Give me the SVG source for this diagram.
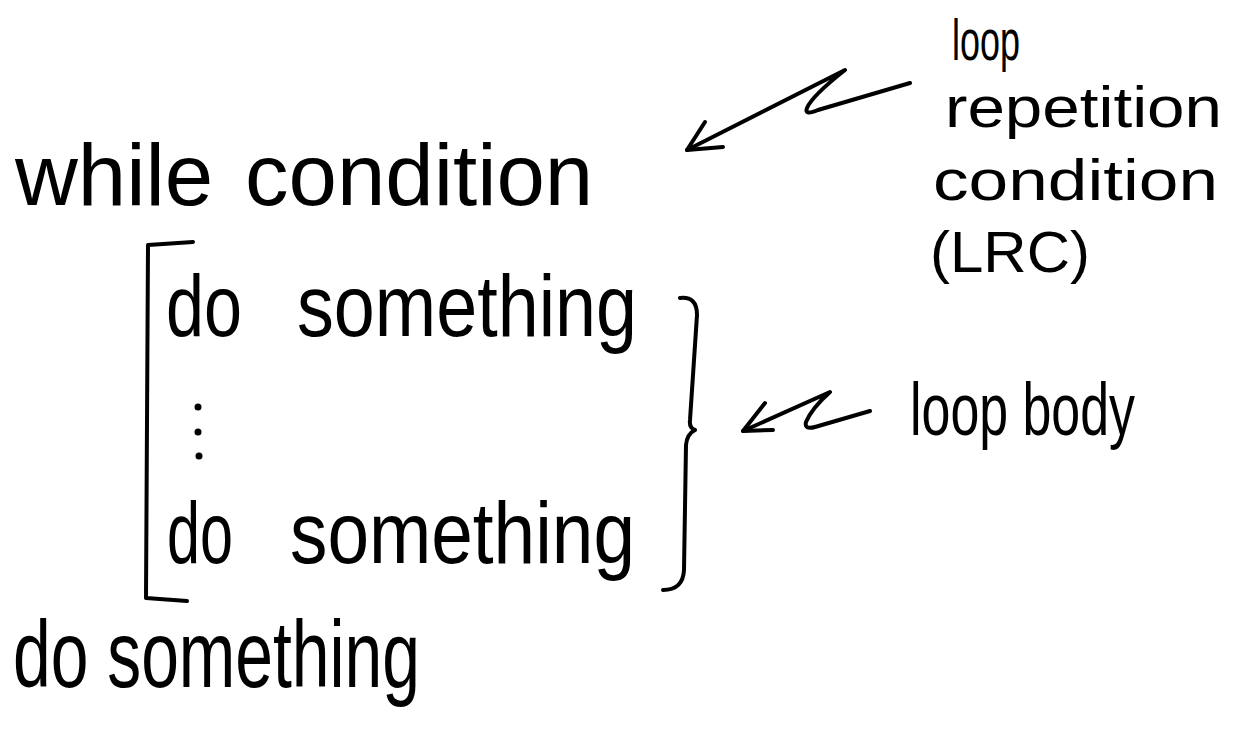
<svg xmlns="http://www.w3.org/2000/svg" width="1238" height="746" viewBox="0 0 1238 746">
<style>
.hw{font-family:"Liberation Sans",Arial,sans-serif;fill:#000}
.big{font-size:87px}
.xl{font-size:95px}
.mid{font-size:58px}
.sm{font-size:74px}
.ln{fill:none;stroke:#000;stroke-width:4;stroke-linecap:round;stroke-linejoin:round}
</style>
<rect width="1238" height="746" fill="#fff"/>
<g id="while-condition">
<text class="hw big" y="205"><tspan x="15">while</tspan><tspan x="245">condition</tspan></text>
</g>
<g id="loop-body-block">
<path class="ln" d="M193,242 L148,245 L146,598 L187,601"/>
<text class="hw big" y="336"><tspan x="166" textLength="76" lengthAdjust="spacingAndGlyphs">do</tspan><tspan x="297" textLength="340" lengthAdjust="spacingAndGlyphs">something</tspan></text>
<circle cx="198" cy="407" r="3.5"/>
<circle cx="198" cy="432" r="3.5"/>
<circle cx="199" cy="456" r="3.5"/>
<text class="hw big" y="563"><tspan x="167" textLength="66" lengthAdjust="spacingAndGlyphs">do</tspan><tspan x="290" textLength="345" lengthAdjust="spacingAndGlyphs">something</tspan></text>
<path class="ln" d="M680,298 Q697,296 697,315 L690,420 Q689,428 695,430 Q687,434 686,445 L684,570 Q683,590 663,590"/>
</g>
<g id="after-loop">
<text class="hw xl" x="13" y="687" textLength="407" lengthAdjust="spacingAndGlyphs">do something</text>
</g>
<g id="lrc-label">
<text class="hw mid"><tspan x="952" y="60" textLength="68" lengthAdjust="spacingAndGlyphs">loop</tspan><tspan x="945" y="127" textLength="277" lengthAdjust="spacingAndGlyphs">repetition</tspan><tspan x="933" y="200" textLength="285" lengthAdjust="spacingAndGlyphs">condition</tspan><tspan x="930" y="272" textLength="160" lengthAdjust="spacingAndGlyphs">(LRC)</tspan></text>
</g>
<g id="body-label">
<text class="hw sm" x="910" y="435" textLength="225" lengthAdjust="spacingAndGlyphs">loop body</text>
</g>
<g id="connectors">
<path class="ln" d="M910,83 L818,110 Q804,116 807,108 Q812,96 845,70 L687,150"/>
<path class="ln" d="M705,122 L687,150 L723,147"/>
<path class="ln" d="M870,411 L815,427 Q804,430 806,422 Q812,408 830,392 L743,431"/>
<path class="ln" d="M765,403 L743,431 L773,430"/>
</g>
</svg>
